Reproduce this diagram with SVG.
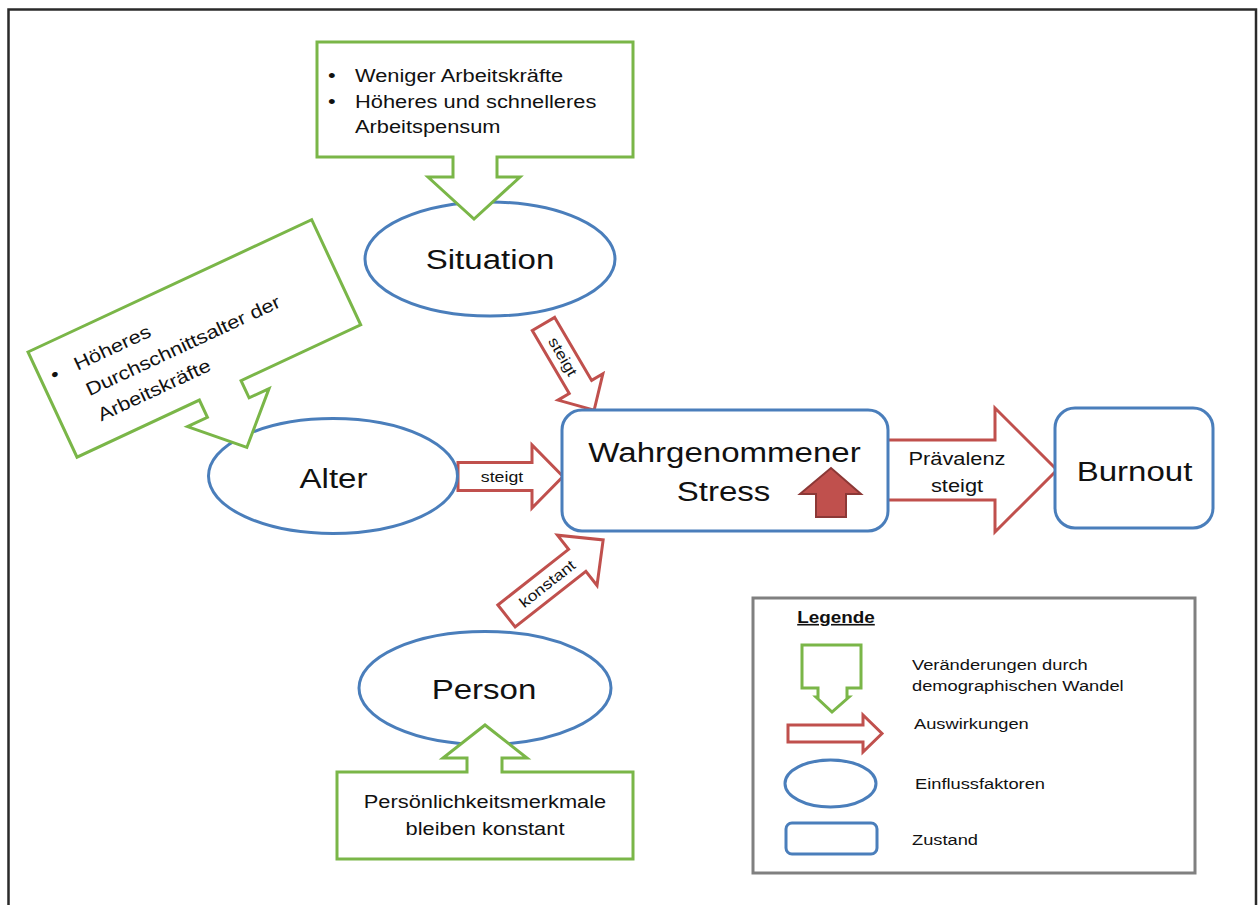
<svg xmlns="http://www.w3.org/2000/svg" width="1258" height="905" viewBox="0 0 1258 905">
<defs>
<style>
.g{fill:#fff;stroke:#7ab648;stroke-width:3;stroke-linejoin:miter}
.b{fill:#fff;stroke:#4a7ebb;stroke-width:3}
.r{fill:#fff;stroke:#c0504d;stroke-width:3;stroke-linejoin:miter}
text{font-family:"Liberation Sans",Arial,Helvetica,sans-serif;fill:#111}
.t28{font-size:28px}
.t18{font-size:18.5px}
.t15{font-size:15px}
.tl{font-size:15.5px}
.m{text-anchor:middle}
</style>
<path id="callout" d="M0,0 H316 V115 H180 V135 H203 L157,177 L111,135 H136 V115 H0 Z"/>
</defs>
<rect width="1258" height="905" fill="#fff"/>
<rect x="8.5" y="9.5" width="1247.5" height="905" fill="none" stroke="#2a2a2a" stroke-width="2.5"/>

<g id="connectors">
  <path class="r" d="M887,440 H995 V408 L1057,470 L995,532 V500 H887 Z"/>
  <path class="r" d="M458,462.5 H532 V445 L563,476.5 L532,508 V490.5 H458 Z"/>
  <g transform="translate(543.5,324) rotate(59.6)">
    <path class="r" d="M0,-13 H73 V-26 L100,0 L73,26 V13 H0 Z"/>
    <text class="t15 m" transform="translate(38,5) scale(1.18,1)">steigt</text>
  </g>
  <g transform="translate(506.5,616) rotate(-38.2)">
    <path class="r" d="M0,-14 H90 V-32 L123,0 L90,32 V14 H0 Z"/>
    <text class="t15 m" transform="translate(52,5) scale(1.18,1)">konstant</text>
  </g>
  <text class="t15 m" transform="translate(502,482) scale(1.18,1)">steigt</text>
  <text class="t18 m" transform="translate(957,465) scale(1.18,1)">Prävalenz</text>
  <text class="t18 m" transform="translate(957,492) scale(1.18,1)">steigt</text>
</g>

<g id="situation">
  <ellipse class="b" cx="490" cy="259" rx="125" ry="57"/>
  <text class="t28 m" transform="translate(490,269) scale(1.18,1)">Situation</text>
</g>

<g id="alter">
  <ellipse class="b" cx="333" cy="476" rx="124.5" ry="57.5"/>
  <text class="t28 m" transform="translate(333.5,488) scale(1.18,1)">Alter</text>
</g>

<g id="person">
  <ellipse class="b" cx="485" cy="688" rx="126" ry="56.5"/>
  <text class="t28 m" transform="translate(484,699) scale(1.18,1)">Person</text>
</g>

<g id="stress">
  <rect class="b" x="562" y="410" width="326" height="121" rx="20"/>
  <text class="t28 m" transform="translate(724.5,462) scale(1.18,1)">Wahrgenommener</text>
  <text class="t28 m" transform="translate(723.5,501) scale(1.18,1)">Stress</text>
  <path d="M816,517 V494 H800 L831,468 L861,494 H846 V517 Z" fill="#c0504d" stroke="#8c3836" stroke-width="2"/>
</g>

<g id="burnout">
  <rect class="b" x="1055" y="408" width="158" height="120" rx="20"/>
  <text class="t28 m" transform="translate(1134.5,481) scale(1.18,1)">Burnout</text>
</g>

<g id="callout-situation" transform="translate(317,42)">
  <use href="#callout" class="g"/>
  <text class="t18" transform="translate(11,40) scale(1.18,1)">•</text>
  <text class="t18" transform="translate(38,40) scale(1.18,1)">Weniger Arbeitskräfte</text>
  <text class="t18" transform="translate(11,65.5) scale(1.18,1)">•</text>
  <text class="t18" transform="translate(38,65.5) scale(1.18,1)">Höheres und schnelleres</text>
  <text class="t18" transform="translate(38,91) scale(1.18,1)">Arbeitspensum</text>
</g>

<g id="callout-alter" transform="translate(28,352) rotate(-25)">
  <path class="g" d="M0,0 H313 V116 H181 V135 H203 L158,179 L113,135 H135 V116 H0 Z"/>
  <text class="t18" transform="translate(11,38) scale(1.18,1)">•</text>
  <text class="t18" transform="translate(37,38) scale(1.18,1)">Höheres</text>
  <text class="t18" transform="translate(37,66) scale(1.18,1)">Durchschnittsalter der</text>
  <text class="t18" transform="translate(37,94) scale(1.18,1)">Arbeitskräfte</text>
</g>

<g id="callout-person">
  <path class="g" d="M337,772 H467 V758 H443 L485,725 L527,758 H502 V772 H633 V859 H337 Z"/>
  <text class="t18 m" transform="translate(485,808) scale(1.18,1)">Persönlichkeitsmerkmale</text>
  <text class="t18 m" transform="translate(485,835) scale(1.18,1)">bleiben konstant</text>
</g>

<g id="legend">
  <rect x="753" y="598" width="442" height="275" fill="#fff" stroke="#808080" stroke-width="3"/>
  <text class="m" transform="translate(836,623) scale(1.18,1)" style="font-size:16px;font-weight:bold;text-decoration:underline">Legende</text>
  <path class="g" d="M802,645 H861 V688 H847 V697 H849 L832,712 L816,697 H818 V688 H802 Z"/>
  <text class="tl" transform="translate(912,670) scale(1.18,1)">Veränderungen durch</text>
  <text class="tl" transform="translate(912,691) scale(1.18,1)">demographischen Wandel</text>
  <path class="r" d="M788,725 H863 V715 L882,733.5 L863,752 V742 H788 Z"/>
  <text class="tl" transform="translate(914,729) scale(1.18,1)">Auswirkungen</text>
  <ellipse class="b" cx="830.5" cy="783.5" rx="45.5" ry="23.5"/>
  <text class="tl" transform="translate(915,789) scale(1.18,1)">Einflussfaktoren</text>
  <rect class="b" x="786" y="823" width="91" height="31" rx="6"/>
  <text class="tl" transform="translate(912,845) scale(1.18,1)">Zustand</text>
</g>
</svg>
